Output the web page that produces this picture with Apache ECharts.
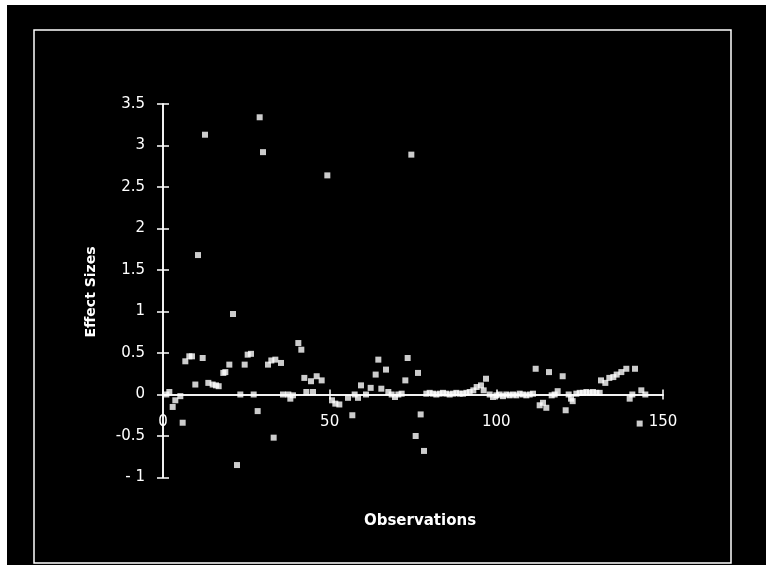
<!DOCTYPE html>
<html>
<head>
<meta charset="utf-8">
<script src="https://cdn.jsdelivr.net/npm/echarts@6/dist/echarts.min.js"></script>
<style>
html,body{margin:0;padding:0;background:#ffffff;}
#chart{width:766px;height:565px;}
</style>
</head>
<body>
<div id="chart"></div>
<script>
const observations = [
  1, 1.9, 2.9, 3.7, 5.2, 5.9, 6.7, 7.9, 8.7, 9.7,
  10.5, 11.9, 12.6, 13.6, 14.9, 15.9, 16.7, 18.1, 18.7, 19.9,
  21, 22.2, 23.2, 24.5, 25.4, 26.4, 27.2, 28.4, 29, 30,
  31.5, 32.5, 33.2, 33.7, 35.4, 36, 37.6, 38.2, 39, 40.6,
  41.5, 42.4, 43, 44.4, 45, 46.1, 47.6, 49.3, 50.7, 51.7,
  52.9, 55.5, 56.8, 57.5, 58.5, 59.4, 60.9, 62.3, 63.8, 64.6,
  65.5, 66.9, 67.6, 68.6, 69.6, 70.6, 71.6, 72.7, 73.4, 74.5,
  75.8, 76.5, 77.3, 78.3,
  79, 80, 81, 82, 83, 84, 85, 86, 87, 88, 89, 90, 91, 92,
  93.1, 94.1, 95.4, 96.2, 96.9, 98, 99,
  100, 101, 102, 103, 104, 105, 106, 107, 108, 109, 110, 111,
  111.8, 113, 114, 115, 115.8, 116.6, 117.5, 118.4, 119.9, 120.8,
  121.7, 122.4, 122.9,
  124, 125, 126, 127, 128, 129, 130, 131,
  131.4, 132.7, 133.9, 135.1, 136.1, 137.5, 139, 140, 140.8, 141.6,
  143, 143.5, 144.7
];
const effectSizes = [
  0.00, 0.03, -0.15, -0.07, -0.02, -0.34, 0.40, 0.46, 0.46, 0.12,
  1.68, 0.44, 3.13, 0.14, 0.12, 0.11, 0.10, 0.26, 0.27, 0.36,
  0.97, -0.85, 0.00, 0.36, 0.48, 0.49, 0.00, -0.20, 3.34, 2.92,
  0.36, 0.41, -0.52, 0.42, 0.38, 0.00, 0.00, -0.05, -0.01, 0.62,
  0.54, 0.20, 0.03, 0.16, 0.03, 0.22, 0.17, 2.64, -0.07, -0.11,
  -0.12, -0.04, -0.25, 0.00, -0.04, 0.11, 0.00, 0.08, 0.24, 0.42,
  0.07, 0.30, 0.03, 0.00, -0.03, 0.00, 0.01, 0.17, 0.44, 2.89,
  -0.50, 0.26, -0.24, -0.68,
  0.01, 0.02, 0.01, 0.00, 0.01, 0.02, 0.01, 0.00, 0.01, 0.02, 0.01, 0.01, 0.02, 0.03,
  0.05, 0.09, 0.11, 0.05, 0.19, 0.00, -0.03,
  -0.01, 0.00, -0.02, 0.00, -0.01, 0.00, -0.01, 0.01, 0.00, -0.01, 0.00, 0.01,
  0.31, -0.13, -0.10, -0.16, 0.27, -0.01, 0.00, 0.04, 0.22, -0.19,
  0.00, -0.05, -0.08,
  0.01, 0.02, 0.02, 0.03, 0.02, 0.03, 0.02, 0.02,
  0.17, 0.14, 0.20, 0.21, 0.24, 0.27, 0.31, -0.05, 0.00, 0.31,
  -0.35, 0.05, 0.00
];
const xTicks = [0, 50, 100, 150];
const yTicks = [-1, -0.5, 0, 0.5, 1, 1.5, 2, 2.5, 3, 3.5];
const xTitle = 'Observations';
const yTitle = 'Effect Sizes';

const points = observations.map((x, i) => [x, effectSizes[i]]);
const font = 'DejaVu Sans';
const white = '#ffffff';

// grid geometry (layout only)
const gridTop = 104, gridBottom = 87.5, chartH = 565;
const yMin = yTicks[0], yMax = yTicks[yTicks.length - 1];
const plotH = chartH - gridTop - gridBottom;
// move the x axis up so it sits at effect size 0
const xAxisOffset = -plotH * (0 - yMin) / (yMax - yMin);

const chart = echarts.init(document.getElementById('chart'), null, {renderer: 'canvas'});

const xBase = {
  type: 'value', gridIndex: 0, position: 'bottom', offset: xAxisOffset,
  min: xTicks[0], max: xTicks[xTicks.length - 1], interval: xTicks[1] - xTicks[0],
  splitLine: {show: false},
  axisLine: {show: true, onZero: false, lineStyle: {color: white, width: 1.5}}
};
const yBase = {
  type: 'value', gridIndex: 0,
  min: yMin, max: yMax, interval: yTicks[1] - yTicks[0],
  splitLine: {show: false},
  axisLine: {show: true, onZero: false, lineStyle: {color: white, width: 1.5}}
};

chart.setOption({
  animation: false,
  backgroundColor: 'transparent',
  graphic: [
    {type: 'rect', z: -10, shape: {x: 7, y: 5, width: 759, height: 560}, style: {fill: '#000000'}, silent: true},
    {type: 'rect', z: -5, shape: {x: 34, y: 30, width: 697, height: 533}, style: {fill: 'none', stroke: white, lineWidth: 1.5}, silent: true},
    {type: 'text', x: 91, y: 292, rotation: Math.PI / 2, z: 10,
     style: {text: yTitle, fill: white, font: 'bold 14px "DejaVu Sans"', textAlign: 'center', textVerticalAlign: 'middle'}},
    {type: 'text', x: 420, y: 521, z: 10,
     style: {text: xTitle, fill: white, font: 'bold 15px "DejaVu Sans"', textAlign: 'center', textVerticalAlign: 'middle'}}
  ],
  grid: {left: 163, right: 103, top: gridTop, bottom: gridBottom, containLabel: false},
  xAxis: [
    Object.assign({}, xBase, {
      axisTick: {show: true, inside: false, length: 5, lineStyle: {color: white, width: 1.5}},
      axisLabel: {show: true, color: white, fontFamily: font, fontSize: 15, margin: 20}
    }),
    Object.assign({}, xBase, {
      axisTick: {show: true, inside: true, length: 5, lineStyle: {color: white, width: 1.5}},
      axisLabel: {show: false}
    })
  ],
  yAxis: [
    Object.assign({}, yBase, {
      axisTick: {show: true, inside: false, length: 6, lineStyle: {color: white, width: 1.5}},
      axisLabel: {show: true, color: white, fontFamily: font, fontSize: 15, margin: 18,
        formatter: v => (v === -1 ? '- 1' : String(v))}
    }),
    Object.assign({}, yBase, {
      position: 'left',
      axisTick: {show: true, inside: true, length: 6, lineStyle: {color: white, width: 1.5}},
      axisLabel: {show: false}
    })
  ],
  series: [{
    type: 'scatter',
    xAxisIndex: 0, yAxisIndex: 0,
    symbol: 'rect',
    symbolSize: 6,
    itemStyle: {color: white},
    data: points
  }]
});
</script>
</body>
</html>
